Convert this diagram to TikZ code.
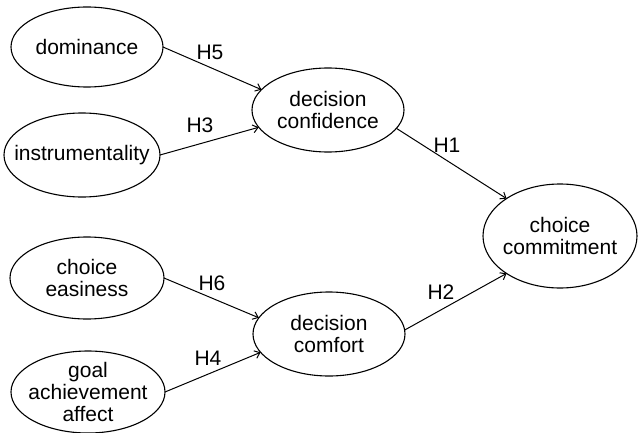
\documentclass[tikz,border=0pt]{standalone}
\usepackage{fontspec}
\setmainfont{Liberation Sans}
\usetikzlibrary{shapes.geometric,arrows.meta}
\begin{document}
\begin{tikzpicture}[x=1pt,y=-1pt,
  var/.style={draw, ellipse, line width=1.1pt, inner sep=0pt, outer sep=0pt},
  vtext/.style={align=center, font=\fontsize{21}{22}\selectfont, inner sep=0pt},
  hyp/.style={font=\fontsize{21}{22}\selectfont, inner sep=0pt},
  link/.style={line width=1pt, -{Straight Barb[length=5pt,width=8pt,line width=1pt]}}]
\useasboundingbox (0,0) rectangle (639,433);
% ellipses
\node[var, minimum width=152pt, minimum height=80pt] (dom) at (87,47) {};
\node[var, minimum width=156pt, minimum height=84pt] (ins) at (82,155) {};
\node[var, minimum width=152pt, minimum height=84pt] (dc) at (328,110) {};
\node[var, minimum width=154pt, minimum height=82pt] (ce) at (87,278) {};
\node[var, minimum width=154pt, minimum height=82pt] (goal) at (88,392) {};
\node[var, minimum width=152pt, minimum height=84pt] (dcf) at (329,334) {};
\node[var, minimum width=154pt, minimum height=104pt] (cc) at (560,236) {};
% texts
\node[vtext] (domt) at (dom.center) {dominance};
\node[vtext] (inst) at (ins.center) {instrumentality};
\node[vtext] (dct) at (dc.center) {decision\\confidence};
\node[vtext] (cet) at (ce.center) {choice\\easiness};
\node[vtext] (goalt) at (goal.center) {goal\\achievement\\affect};
\node[vtext] (dcft) at (dcf.center) {decision\\comfort};
\node[vtext] (cct) at (cc.center) {choice\\commitment};
% connectors
\draw[link] (dom.east) -- (dc.163);
\draw[link] (ins.east) -- (dc.194);
\draw[link] (dc.345) -- (cc.145);
\draw[link] (ce.east) -- (dcf.167);
\draw[link] (goal.east) -- (dcf.195);
\draw[link] (dcf.3) -- (cc.215);
% labels
\node[hyp] (h5) at (210,52) {H5};
\node[hyp] (h3) at (200,125) {H3};
\node[hyp] (h1) at (447,145) {H1};
\node[hyp] (h6) at (212,283) {H6};
\node[hyp] (h4) at (208,358) {H4};
\node[hyp] (h2) at (441,292) {H2};
\end{tikzpicture}
\end{document}
